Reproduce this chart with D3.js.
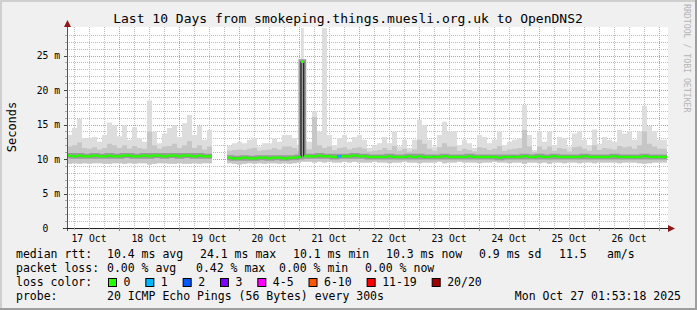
<!DOCTYPE html>
<html lang="en">
<head>
<meta charset="UTF-8">
<title>Smokeping - Last 10 Days to OpenDNS2</title>
<script src="https://cdn.jsdelivr.net/npm/d3@7"></script>
<style>
  body { margin: 0; background: #fff; }
  svg { display: block; font-family: "DejaVu Sans Mono", monospace; }
  .pre { white-space: pre; }
</style>
</head>
<body>
<svg id="chart" width="697" height="310"></svg>
<script>
// values in milliseconds, one entry per 2 hour bin starting 17 Oct 03:12 UTC
const binStart = Date.UTC(2025, 9, 17, 3, 12);
const binHours = 2;

const median = [
  10.5, 10.4, 10.5, 10.4, 10.4, 10.5, 10.4, 10.4, 10.5, 10.4,
  10.4, 10.5, 10.5, 10.4, 10.4, 10.5, 10.4, 10.5, 10.5, 10.4,
  10.5, 10.5, 10.4, 10.5, 10.5, 10.4, 10.5, 10.4, 10.4, null,
  null, null, 10.2, 10.1, 10.1, 10.2, 10.1, 10.1, 10.2, 10.2,
  10.1, 10.2, 10.2, 10.1, 10.2, 10.2, 10.3, 10.4, 10.4, 10.4,
  10.5, 10.4, 10.4, 10.3, 10.4, 10.4, 10.4, 10.5, 10.4, 10.4,
  10.3, 10.3, 10.3, 10.3, 10.4, 10.3, 10.3, 10.3, 10.4, 10.3,
  10.4, 10.3, 10.3, 10.3, 10.3, 10.4, 10.3, 10.3, 10.3, 10.3,
  10.4, 10.3, 10.3, 10.3, 10.3, 10.3, 10.2, 10.3, 10.3, 10.3,
  10.3, 10.4, 10.3, 10.3, 10.4, 10.3, 10.3, 10.4, 10.3, 10.3,
  10.3, 10.3, 10.3, 10.4, 10.3, 10.3, 10.3, 10.3, 10.3, 10.4,
  10.3, 10.3, 10.3, 10.3, 10.3, 10.4, 10.3, 10.3, 10.3, 10.3
];
const smokeMin = [
  9.3, 9.4, 9.3, 9.4, 9.3, 9.4, 9.4, 9.3, 9.3, 9.4,
  9.4, 9.3, 9.4, 9.3, 9.4, 9.4, 9.2, 9.3, 9.4, 9.4,
  9.3, 9.3, 9.4, 9.3, 9.3, 9.4, 9.3, 9.4, 9.4, null,
  null, null, 9.4, 9.3, 9.2, 9.3, 9.4, 9.3, 9.4, 9.3,
  9.4, 9.4, 9.3, 9.4, 9.3, 9.4, 9.5, 9.6, 9.6, 9.5,
  9.6, 9.5, 9.6, 9.5, 9.5, 9.6, 9.5, 9.6, 9.5, 9.5,
  9.5, 9.6, 9.5, 9.5, 9.4, 9.5, 9.5, 9.6, 9.5, 9.5,
  9.4, 9.5, 9.5, 9.5, 9.6, 9.4, 9.5, 9.5, 9.6, 9.5,
  9.5, 9.5, 9.4, 9.5, 9.5, 9.6, 9.5, 9.5, 9.4, 9.5,
  9.5, 9.3, 9.5, 9.5, 9.4, 9.5, 9.3, 9.5, 9.5, 9.4,
  9.5, 9.5, 9.4, 9.5, 9.5, 9.4, 9.5, 9.5, 9.5, 9.5,
  9.4, 9.5, 9.5, 9.5, 9.4, 9.3, 9.4, 9.5, 9.5, 9.5
];
const smokeMid = [
  11.8, 12.0, 12.4, 11.6, 11.5, 11.7, 11.4, 11.6, 12.2, 12.0,
  11.6, 12.0, 11.5, 11.9, 11.6, 11.5, 14.0, 12.0, 11.5, 11.8,
  11.9, 12.2, 11.6, 12.0, 12.6, 11.6, 12.0, 11.4, 11.8, null,
  null, null, 11.2, 11.3, 11.4, 11.3, 11.5, 11.6, 11.2, 11.3,
  11.4, 11.6, 11.4, 11.8, 11.8, 11.6, 11.2, 11.5, 11.4, 16.1,
  12.0, 11.6, 11.8, 11.3, 11.6, 11.7, 11.4, 11.6, 11.7, 11.5,
  11.1, 11.2, 11.3, 11.6, 11.3, 11.9, 11.2, 11.5, 11.1, 11.4,
  12.8, 12.2, 11.5, 11.2, 11.7, 12.3, 11.8, 11.8, 11.2, 11.5,
  11.3, 11.1, 11.7, 11.6, 11.3, 11.5, 11.9, 11.2, 11.4, 11.5,
  11.6, 14.2, 11.8, 11.0, 11.8, 11.4, 11.8, 11.2, 11.6, 11.5,
  11.1, 11.7, 11.8, 11.5, 11.2, 12.0, 11.3, 11.6, 11.5, 11.4,
  11.9, 11.7, 11.8, 11.5, 12.0, 14.0, 12.2, 11.8, 11.5, 11.5
];
const smokeTop = [
  13.5, 14.5, 15.8, 13.0, 13.0, 13.2, 12.5, 13.5, 15.3, 14.9,
  13.3, 14.9, 12.8, 14.6, 13.0, 12.5, 18.5, 14.0, 12.3, 13.7,
  14.5, 14.9, 13.2, 15.2, 16.4, 13.5, 14.8, 12.8, 14.2, null,
  null, null, 11.9, 12.3, 12.5, 12.3, 12.8, 13.0, 11.8, 12.3,
  12.3, 13.0, 12.5, 13.5, 13.5, 13.0, 11.9, 12.6, 12.5, 16.9,
  14.0, 29.0, 13.5, 12.0, 13.0, 13.5, 12.5, 13.2, 13.5, 12.8,
  11.6, 12.0, 12.3, 13.2, 12.3, 14.0, 11.8, 12.8, 11.6, 12.8,
  15.7, 14.9, 12.8, 11.8, 13.5, 15.4, 14.0, 14.0, 12.0, 12.8,
  12.3, 11.6, 13.5, 13.2, 12.3, 12.8, 14.0, 12.0, 12.5, 12.8,
  13.0, 17.8, 13.5, 11.3, 14.0, 12.5, 14.0, 12.0, 13.2, 13.0,
  11.8, 13.7, 14.0, 12.8, 12.0, 14.3, 12.2, 13.2, 12.8, 12.5,
  14.2, 13.7, 14.0, 12.8, 14.0, 17.7, 14.8, 14.0, 12.8, 12.8
];
// short spike just after midnight on 21 Oct (UTC)
const spikes = [
  { from: Date.UTC(2025, 9, 21, 0, 48), to: Date.UTC(2025, 9, 21, 1, 54), med: 24.1, lo: 9.6, mid: 24.1, hi: 29.0 }
];
// [bin, lost pings out of 20]
const lossEvents = [[54, 1]];

const yTicks = [0, 5, 10, 15, 20, 25];
const lossLabels = ['0', '1', '2', '3', '4-5', '6-10', '11-19', '20/20'];
const lossColors = ['#26ff00', '#00b8ff', '#0059ff', '#7e00ff', '#ff00ff', '#ff5500', '#ff0000', '#a10000'];
const lossUpper = [0, 1, 2, 3, 5, 10, 19, 20];

const titleText = 'Last 10 Days from smokeping.things.muesli.org.uk to OpenDNS2';
const rttStats = ['10.4 ms avg', '24.1 ms max', '10.1 ms min', '10.3 ms now', '0.9 ms sd', '11.5', 'am/s'];
const lossStats = ['0.00 % avg', '0.42 % max', '0.00 % min', '0.00 % now'];
const probeText = '20 ICMP Echo Pings (56 Bytes) every 300s';
const stampText = 'Mon Oct 27 01:53:18 2025';

const svg = d3.select('#chart');
const W = 697, H = 310;
const pL = 67, pR = 667, pT = 28, pB = 228;
const HOUR = 3600e3;

const x = d3.scaleUtc()
  .domain([new Date(binStart), new Date(binStart + median.length * binHours * HOUR)])
  .range([pL, pR]);
const y = d3.scaleLinear().domain([0, 29]).range([pB, pT]);

// frame
svg.append('rect').attr('width', W).attr('height', H).attr('fill', '#f0f0f0');
svg.append('rect').attr('x', 0).attr('y', 0).attr('width', W).attr('height', 2).attr('fill', '#cfcfcf');
svg.append('rect').attr('x', 0).attr('y', 0).attr('width', 2).attr('height', H).attr('fill', '#cfcfcf');
svg.append('rect').attr('x', 0).attr('y', H - 2).attr('width', W).attr('height', 2).attr('fill', '#9e9e9e');
svg.append('rect').attr('x', W - 2).attr('y', 0).attr('width', 2).attr('height', H).attr('fill', '#9e9e9e');

svg.append('rect').attr('x', pL).attr('y', pT - 1)
  .attr('width', pR - pL + 1).attr('height', pB - pT + 1).attr('fill', '#fff');

// grid
const px = v => Math.round(v) + 0.5;
const g = svg.append('g');
const minorY = d3.range(1, 29).filter(v => v % 5 !== 0);
const majorY = d3.range(5, 29, 5);
const [t0, t1] = x.domain();
const minorX = d3.utcHour.every(6).range(t0, t1).filter(d => d.getUTCHours() !== 0);
const majorX = d3.utcDay.range(t0, t1);

g.selectAll('.hmin').data(minorY).join('line')
  .attr('x1', pL).attr('x2', pR + 1).attr('y1', d => px(y(d))).attr('y2', d => px(y(d)))
  .attr('stroke', '#bdbdbd').attr('stroke-dasharray', '1,1');
g.selectAll('.vmin').data(minorX).join('line')
  .attr('x1', d => px(x(d))).attr('x2', d => px(x(d))).attr('y1', pT - 1).attr('y2', pB)
  .attr('stroke', '#bdbdbd').attr('stroke-dasharray', '1,1');
g.selectAll('.hmaj').data(majorY).join('line')
  .attr('x1', pL).attr('x2', pR + 1).attr('y1', d => px(y(d))).attr('y2', d => px(y(d)))
  .attr('stroke', '#ee8c8c').attr('stroke-dasharray', '1,1');
g.selectAll('.vmaj').data(majorX).join('line')
  .attr('x1', d => px(x(d))).attr('x2', d => px(x(d))).attr('y1', pT - 1).attr('y2', pB)
  .attr('stroke', '#ee8c8c').attr('stroke-dasharray', '1,1');

// samples: 2 hour bins, with the short spikes cut into them
const bins = [];
median.forEach((m, i) => {
  const b = {
    t0: binStart + i * binHours * HOUR, t1: binStart + (i + 1) * binHours * HOUR,
    med: m, lo: smokeMin[i], mid: smokeMid[i], hi: smokeTop[i], lost: 0, idx: i
  };
  const s = spikes.find(sp => sp.from < b.t1 && sp.to > b.t0);
  if (!s) { bins.push(b); return; }
  if (s.from > b.t0) bins.push({ ...b, t1: s.from });
  bins.push({ ...s, t0: s.from, t1: s.to, lost: 0, idx: -1 });
  if (s.to < b.t1) bins.push({ ...b, t0: s.to });
});
lossEvents.forEach(([bi, n]) => bins.filter(b => b.idx === bi).forEach(b => { b.lost = n; }));
const steps = bins.flatMap(b => [{ ...b, t: b.t0 }, { ...b, t: b.t1 }]);
const has = d => d.med != null;

svg.append('path').datum(steps)
  .attr('d', d3.area().defined(has).x(d => x(d.t)).y0(d => y(d.lo)).y1(d => y(d.hi)))
  .attr('fill', '#dddddd');
svg.append('path').datum(steps)
  .attr('d', d3.area().defined(has).x(d => x(d.t)).y0(d => y(d.lo)).y1(d => y(d.mid)))
  .attr('fill', '#c6c6c6');

const medLine = d3.line().defined(has).x(d => x(d.t)).y(d => y(d.med));
svg.append('path').datum(steps).attr('d', medLine)
  .attr('fill', 'none').attr('stroke', '#9a9a9a').attr('stroke-width', 5);
svg.append('path').datum(steps).attr('d', medLine)
  .attr('fill', 'none').attr('stroke', '#000').attr('stroke-width', 1);

const lossColor = n => lossColors[lossUpper.findIndex(u => n <= u)];
svg.append('g').selectAll('line').data(bins.filter(has)).join('line')
  .attr('x1', d => x(d.t0)).attr('x2', d => x(d.t1))
  .attr('y1', d => y(d.med)).attr('y2', d => y(d.med))
  .attr('stroke', d => lossColor(d.lost)).attr('stroke-width', 2.4);

// axes
const arrowCol = '#8f1717';
svg.append('line').attr('x1', pL + 0.5).attr('x2', pL + 0.5).attr('y1', pB + 3).attr('y2', pT - 5)
  .attr('stroke', '#555');
svg.append('line').attr('x1', pL - 4).attr('x2', pR + 2).attr('y1', pB + 0.5).attr('y2', pB + 0.5)
  .attr('stroke', '#222');
svg.append('path').attr('d', `M${pL - 3},${pT - 1}L${pL + 4},${pT - 1}L${pL + 0.5},${pT - 8}Z`).attr('fill', arrowCol);
svg.append('path').attr('d', `M${pR + 1},${pB - 3}L${pR + 1},${pB + 4}L${pR + 8},${pB + 0.5}Z`).attr('fill', arrowCol);

svg.selectAll('.ytk').data(minorY).join('line')
  .attr('x1', pL - 2).attr('x2', pL).attr('y1', d => px(y(d))).attr('y2', d => px(y(d)))
  .attr('stroke', '#aaa');
svg.selectAll('.ytkM').data(yTicks).join('line')
  .attr('x1', pL - 3).attr('x2', pL).attr('y1', d => px(y(d))).attr('y2', d => px(y(d)))
  .attr('stroke', '#444');
svg.selectAll('.xtk').data(minorX).join('line')
  .attr('x1', d => px(x(d))).attr('x2', d => px(x(d))).attr('y1', pB).attr('y2', pB + 2)
  .attr('stroke', '#aaa');
svg.selectAll('.xtkM').data(majorX).join('line')
  .attr('x1', d => px(x(d))).attr('x2', d => px(x(d))).attr('y1', pB).attr('y2', pB + 3)
  .attr('stroke', '#e06060');

svg.selectAll('.ylab').data(yTicks).join('text')
  .attr('class', 'pre')
  .attr('x', 60).attr('y', d => y(d) + 3.5)
  .attr('text-anchor', 'end').attr('font-size', 9.7)
  .text(d => d === 0 ? '0  ' : `${d} m`);

const noons = majorX.map(d => d3.utcHour.offset(d, -12)).concat(d3.utcHour.offset(majorX[majorX.length - 1], 12))
  .filter(d => d >= t0 && d <= t1);
const fmtDay = d3.utcFormat('%d %b');
svg.selectAll('.xlab').data(noons).join('text')
  .attr('x', d => x(d)).attr('y', 241.5)
  .attr('text-anchor', 'middle').attr('font-size', 9.7)
  .text(fmtDay);

// titles
svg.append('text').attr('x', 348).attr('y', 23).attr('text-anchor', 'middle')
  .attr('font-size', 13).text(titleText);
svg.append('text').attr('transform', 'translate(15.5,127) rotate(-90)')
  .attr('text-anchor', 'middle').attr('font-size', 12).text('Seconds');
svg.append('text').attr('transform', 'translate(684,4) rotate(90)')
  .attr('font-size', 8.2).attr('fill', '#b4b4b4').text('RRDTOOL / TOBI OETIKER');

// legend
const fs = 11.5;
const row = (yy, label) => svg.append('text').attr('x', 16).attr('y', yy).attr('font-size', fs).text(label);
row(258, 'median rtt:');
[107, 200, 293, 386, 479, 559, 607].forEach((xx, i) =>
  svg.append('text').attr('x', xx).attr('y', 258).attr('font-size', fs).text(rttStats[i]));
row(272, 'packet loss:');
[107, 196, 279, 365].forEach((xx, i) =>
  svg.append('text').attr('x', xx).attr('y', 272).attr('font-size', fs).text(lossStats[i]));
row(286, 'loss color:');
let bx = 108.5;
lossLabels.forEach((lab, i) => {
  svg.append('rect').attr('x', bx).attr('y', 278.5).attr('width', 8).attr('height', 8)
    .attr('fill', lossColors[i]).attr('stroke', '#000');
  svg.append('text').attr('x', bx + 15).attr('y', 286).attr('font-size', fs).text(lab);
  bx += 30.4 + lab.length * 6.93;
});
row(300, 'probe:');
svg.append('text').attr('x', 107).attr('y', 300).attr('font-size', fs).text(probeText);
svg.append('text').attr('x', 681).attr('y', 300).attr('text-anchor', 'end').attr('font-size', fs).text(stampText);
</script>
</body>
</html>
